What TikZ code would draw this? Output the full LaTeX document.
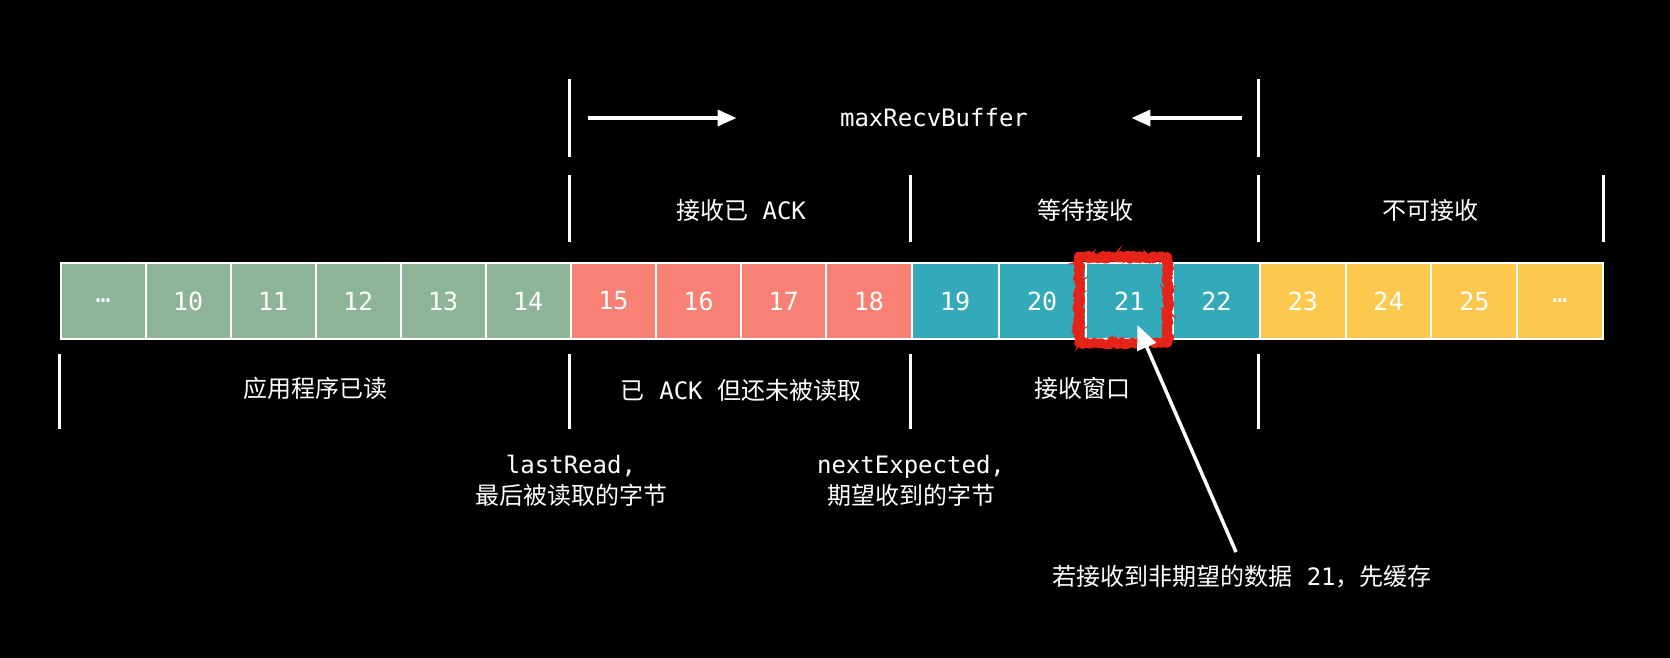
\documentclass[tikz,border=0pt]{standalone}
\usepackage{fontspec}
\setmainfont{Noto Sans CJK SC}
\setmonofont{DejaVu Sans Mono}
\usepackage{tikz}
\usetikzlibrary{arrows.meta,decorations.pathmorphing}
\definecolor{readgreen}{RGB}{141,180,151}
\definecolor{ackred}{RGB}{249,128,116}
\definecolor{waitteal}{RGB}{51,170,185}
\definecolor{freeyellow}{RGB}{253,200,78}
\definecolor{scribred}{RGB}{230,35,25}
\tikzset{
  cell/.style={draw=white, line width=2pt, minimum height=75.7pt, inner sep=0pt, text=white, font=\ttfamily\fontsize{25}{28}\selectfont},
  readcell/.style={cell, fill=readgreen, minimum width=85pt},
  ackcell/.style={cell, fill=ackred, minimum width=85.2pt},
  waitcell/.style={cell, fill=waitteal, minimum width=87.1pt},
  freecell/.style={cell, fill=freeyellow, minimum width=85.75pt},
  txt/.style={text=white, align=center, font=\fontsize{24}{31}\selectfont},
  tick/.style={white, line width=3pt},
  arrow/.style={-{Triangle[length=19pt,width=16pt]}, white, line width=3.5pt},
  bigarrow/.style={-{Triangle[length=24pt,width=20pt]}, white, line width=3.5pt},
  scribble/.style={draw=scribred, line width=9pt, line join=round, decorate, decoration={random steps, segment length=2pt, amplitude=2pt}},
  fuzz/.style={draw=scribred, line width=2.5pt, decorate, decoration={random steps, segment length=1.5pt, amplitude=4pt}}
}
\pgfmathsetseed{7}

\begin{document}
\begin{tikzpicture}[x=1pt,y=-1pt]
    \fill[black] (0,0) rectangle (1670,658);
    \useasboundingbox (0,0) rectangle (1670,658);

    % byte cells
    \node[readcell] (dotsL) at (103.2,301) {…};
    \node[readcell] (c10) at (188.2,301) {10};
    \node[readcell] (c11) at (273.2,301) {11};
    \node[readcell] (c12) at (358.2,301) {12};
    \node[readcell] (c13) at (443.2,301) {13};
    \node[readcell] (c14) at (528.2,301) {14};
    \node[ackcell] (c15) at (613.3,301) {15};
    \node[ackcell] (c16) at (698.5,301) {16};
    \node[ackcell] (c17) at (783.7,301) {17};
    \node[ackcell] (c18) at (868.9,301) {18};
    \node[waitcell] (c19) at (955.05,301) {19};
    \node[waitcell] (c20) at (1042.15,301) {20};
    \node[waitcell] (c21) at (1129.25,301) {21};
    \node[waitcell] (c22) at (1216.35,301) {22};
    \node[freecell] (c23) at (1302.8,301) {23};
    \node[freecell] (c24) at (1388.5,301) {24};
    \node[freecell] (c25) at (1474.3,301) {25};
    \node[freecell] (dotsR) at (1560.0,301) {…};

    % maxRecvBuffer
    \draw[tick] (c15.north west) ++(0,-105) -- ++(0,-78);
    \draw[tick] (c23.north west) ++(0,-105) -- ++(0,-78);
    \node[txt, font=\ttfamily\fontsize{24}{28}\selectfont] (maxbuf) at (934,118) {maxRecvBuffer};
    \coordinate (bufL) at (588,118);
    \coordinate (bufR) at (1242,118);
    \draw[arrow] (bufL) -- ([xshift=-100pt]maxbuf.west);
    \draw[arrow] (bufR) -- ([xshift=100pt]maxbuf.east);

    % states above
    \draw[tick] (c15.north west) ++(0,-20) -- ++(0,-67);
    \draw[tick] (c19.north west) ++(0,-20) -- ++(0,-67);
    \draw[tick] (c23.north west) ++(0,-20) -- ++(0,-67);
    \draw[tick] (dotsR.north east) ++(0,-20) -- ++(0,-67);
    \node[txt] (acked) at (741,210) {接收已\texttt{ ACK}};
    \node[txt] (waiting) at (1085,210) {等待接收};
    \node[txt] (refused) at (1430,210) {不可接收};

    % states below
    \draw[tick] (dotsL.south west) ++(0,14) -- ++(0,75);
    \draw[tick] (c15.south west) ++(0,14) -- ++(0,75);
    \draw[tick] (c19.south west) ++(0,14) -- ++(0,75);
    \draw[tick] (c23.south west) ++(0,14) -- ++(0,75);
    \node[txt] (appread) at (315,388) {应用程序已读};
    \node[txt] (unread) at (741,390) {已\texttt{ ACK }但还未被读取};
    \node[txt] (window) at (1082,388) {接收窗口};

    \node[txt] (lastread) at (571,481) {\texttt{lastRead,}\\最后被读取的字节};
    \node[txt] (nextexp) at (911,481) {\texttt{nextExpected,}\\期望收到的字节};

    % out-of-order byte
    \draw[scribble] ([shift={(-6pt,5pt)}]c21.north west) rectangle ([shift={(-6pt,-3pt)}]c21.south east);
    \draw[fuzz] ([shift={(-6pt,5pt)}]c21.north west) rectangle ([shift={(-6pt,-3pt)}]c21.south east);
    \node[txt] (note) at (1242,577) {若接收到非期望的数据\texttt{ 21}，先缓存};
    \draw[bigarrow] ([shift={(-6pt,10pt)}]note.north) -- ([shift={(8pt,-24pt)}]c21.center);
\end{tikzpicture}
\end{document}
